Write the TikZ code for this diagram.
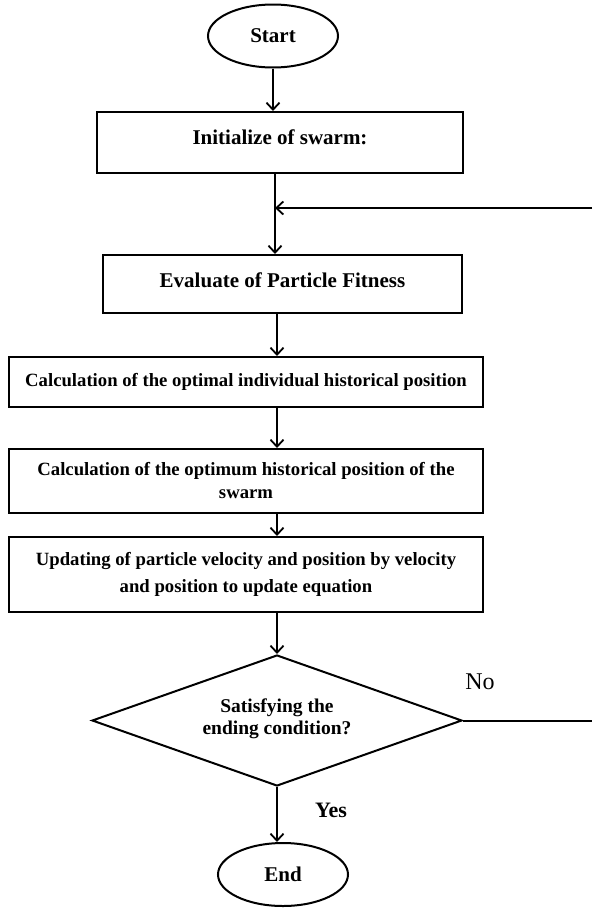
\documentclass[tikz,border=0pt]{standalone}
\usepackage{fontspec}
\setmainfont{Liberation Serif}
\usetikzlibrary{shapes.geometric,arrows.meta}
\begin{document}
\begin{tikzpicture}[x=1pt,y=-1pt,
  every node/.style={inner sep=0pt},
  big/.style={font=\fontsize{21}{24}\selectfont\bfseries},
  mid/.style={font=\fontsize{18.7}{23}\selectfont\bfseries},
  term/.style={draw, ellipse, line width=2pt, minimum width=130pt, minimum height=63pt, big},
  proc/.style={draw, rectangle, line width=2pt, align=center},
  dec/.style={draw, diamond, line width=2pt, align=center},
  conn/.style={line width=2pt, -{Straight Barb[length=7pt,width=13pt,line width=1.8pt]}},
  plain/.style={line width=2pt}]
\useasboundingbox (0,0) rectangle (592,908);
\node[term] (start) at (273,36) {Start};
\node[proc, big, minimum width=366pt, minimum height=61pt] (init) at (280,142.5) {\raisebox{11pt}{Initialize of swarm:}};
\coordinate (join) at (275,208);
\coordinate (rtop) at (592,208);
\node[proc, big, minimum width=359pt, minimum height=58pt] (eval) at (282.5,284) {\raisebox{7pt}{Evaluate of Particle Fitness}};
\node[proc, mid, minimum width=474pt, minimum height=50pt] (ind) at (246,382) {\raisebox{3pt}{Calculation of the optimal individual historical position}};
\node[proc, mid, minimum width=474pt, minimum height=64pt] (glob) at (246,481) {Calculation of the optimum historical position of the\\swarm};
\node[proc, font=\fontsize{18.7}{27}\selectfont\bfseries, minimum width=474pt, minimum height=75pt] (upd) at (246,574.5) {Updating of particle velocity and position by velocity\\and position to update equation};
\node[dec, minimum width=370pt, minimum height=131pt, aspect=2.8] (cond) at (277,720.5) {};
\node[align=center, font=\fontsize{19.5}{22}\selectfont\bfseries] at (277,719) {Satisfying the\\ending condition?};
\coordinate (rno) at (592,720.5);
\node[term] (end) at (283,874.5) {End};
\node[font=\fontsize{24}{26}\selectfont] at (480,682) {No};
\node[font=\fontsize{22}{24}\selectfont\bfseries] at (331,810) {Yes};
\draw[conn] (start.south) -- (init.north -| start.south);
\draw[plain] (init.south -| join) -- (join);
\draw[conn] (join) -- (eval.north -| join);
\draw[conn] (rtop) -- (join);
\draw[conn] (eval.south -| 277,0) -- (ind.north -| 277,0);
\draw[conn] (ind.south -| 277,0) -- (glob.north -| 277,0);
\draw[conn] (glob.south -| 277,0) -- (upd.north -| 277,0);
\draw[conn] (upd.south -| cond.north) -- (cond.north);
\draw[plain] (cond.east) -- (rno);
\draw[conn] (cond.south) -- (end.north -| cond.south);
\end{tikzpicture}
\end{document}
